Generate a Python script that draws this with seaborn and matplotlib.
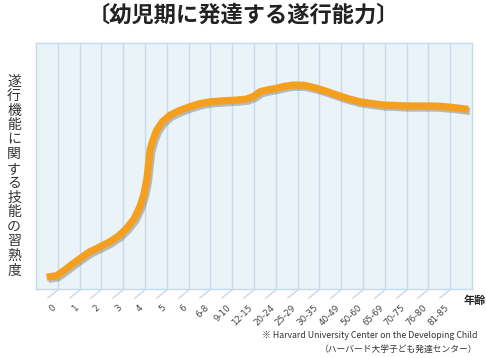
import numpy as np
import pandas as pd
import matplotlib
matplotlib.use("Agg")
import matplotlib.pyplot as plt
import matplotlib.patheffects as pe
import matplotlib.transforms as mtransforms
from matplotlib.path import Path
import seaborn as sns

# age groups shown on the x axis (one per grid line)
age_labels = ["0", "1", "2", "3", "4", "5", "6", "6-8", "9-10", "12-15",
              "20-24", "25-29", "30-35", "40-49", "50-60", "65-69",
              "70-75", "76-80", "81-85"]

# curve (x in grid columns, y as 0-100 proficiency)
curve_x = [0.49, 0.95, 1.30, 1.71, 2.10, 2.48, 2.95, 3.39, 3.80, 4.16, 4.50,
           4.77, 4.95, 5.08, 5.16, 5.23, 5.38, 5.54, 5.80, 6.15, 6.60, 7.06,
           7.50, 7.98, 8.60, 9.20, 9.66, 10.00, 10.28, 10.65, 11.04, 11.40,
           11.80, 12.30, 12.87, 13.30, 13.79, 14.30, 14.86, 15.40, 15.93,
           16.50, 17.00, 17.50, 18.07, 18.50, 18.99, 19.40, 19.83]
curve_y = [4.8, 5.4, 7.6, 10.4, 12.9, 15.2, 17.2, 19.2, 21.6, 24.7, 28.5,
           33.5, 38.5, 44.3, 50.5, 56.5, 61.0, 64.6, 68.0, 70.7, 72.6, 74.1,
           75.3, 76.1, 76.5, 76.8, 77.2, 78.4, 80.2, 81.0, 81.6, 82.4,
           82.9, 82.8, 81.6, 80.4, 78.9, 77.4, 76.1, 75.4, 74.8,
           74.6, 74.4, 74.4, 74.4, 74.3, 73.9, 73.5, 73.0]

df = pd.DataFrame({"x": curve_x, "y": curve_y})

sns.set_theme(style="white")
plt.rcParams["font.family"] = ["Noto Sans CJK JP", "DejaVu Sans"]

fig = plt.figure(figsize=(4.86, 3.58), dpi=100)
ax = fig.add_axes([36 / 486, 1 - 289 / 358, 436 / 486, 246 / 358])
ax.set_facecolor("#eaf3f8")

line_color = "#f59f1f"
sns.lineplot(data=df, x="x", y="y", ax=ax, color=line_color, linewidth=5.2,
             sort=False, solid_capstyle="butt", solid_joinstyle="round")
ax.lines[0].set_path_effects([
    pe.SimpleLineShadow(offset=(1.2, -1.5), shadow_color="#666666", alpha=0.4),
    pe.Normal()])

ax.set_xlim(0, 20)
ax.set_ylim(0, 100)
ax.set_xticks(range(1, 20))
ax.set_xticklabels(age_labels, rotation=45, ha="right", va="top",
                   rotation_mode="anchor", fontsize=6.3, color="#444444",
                   family="DejaVu Sans")
ax.set_yticks([])
ax.grid(axis="x", color="#c6dae9", linewidth=1.0)
for s in ax.spines.values():
    s.set_color("#c6dae9")
    s.set_linewidth(1.0)
ax.set_xlabel("")
ax.set_ylabel("")

# diagonal tick dashes
diag = Path([(0, 0), (-1, -0.8)], [Path.MOVETO, Path.LINETO])
ax.tick_params(axis="x", bottom=True, length=5, width=1.0, color="#c6dae9",
               pad=5)
for t in ax.xaxis.get_major_ticks():
    t.tick1line.set_marker(diag)
    t.tick1line.set_markersize(16)
    t.tick1line.set_markeredgecolor("#c6dae9")
    t.tick1line.set_markeredgewidth(1.0)
shift = mtransforms.ScaledTranslation(-6 / 100, 0, fig.dpi_scale_trans)
for lab in ax.get_xticklabels():
    lab.set_transform(lab.get_transform() + shift)

fig.text(0.5, 1 - 15 / 358, "〔幼児期に発達する遂行能力〕", ha="center", va="center",
         fontsize=16, fontweight="bold", color="#222222")

fig.text(14 / 486, 1 - 176 / 358, "\n".join("遂行機能に関する技能の習熟度"),
         ha="center", va="center", fontsize=10, color="#333333",
         linespacing=1.05)

fig.text(486 / 486, 1 - 300 / 358, "年齢", ha="right", va="center",
         fontsize=8, fontweight="bold", color="#222222")

fig.text(477 / 486, 1 - 336 / 358,
         "※ Harvard University Center on the Developing Child",
         ha="right", va="center", fontsize=6.3, color="#333333")
fig.text(477 / 486, 1 - 349 / 358, "（ハーバード大学子ども発達センター）",
         ha="right", va="center", fontsize=6.3, color="#333333")

fig.savefig("out.png", dpi=100, facecolor="white")
